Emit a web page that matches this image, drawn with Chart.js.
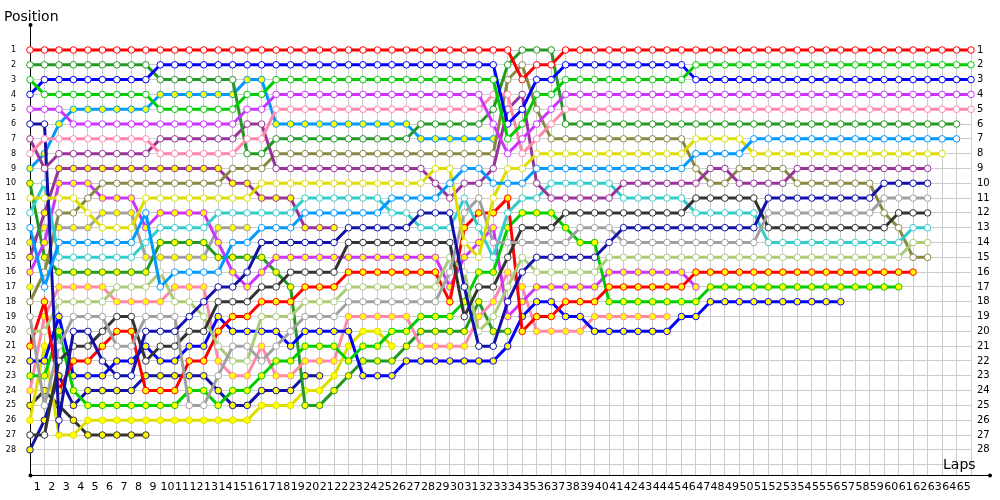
<!DOCTYPE html>
<html>
<head>
<meta charset="utf-8">
<script src="https://cdn.jsdelivr.net/npm/chart.js@4.4.1/dist/chart.umd.min.js"></script>
<style>
  html, body { margin: 0; padding: 0; background: #fff; }
</style>
</head>
<body>
<canvas id="lap_chart" width="1000" height="500"></canvas>
<script>
// x categories: lap 0 (grid) .. 65, labelled between gridlines
const lapTicks = ['1','2','3','4','5','6','7','8','9','10','11','12','13','14','15','16','17','18','19','20',
  '21','22','23','24','25','26','27','28','29','30','31','32','33','34','35','36','37','38','39','40',
  '41','42','43','44','45','46','47','48','49','50','51','52','53','54','55','56','57','58','59','60',
  '61','62','63','64','65',''];
const positionTicks = [1,2,3,4,5,6,7,8,9,10,11,12,13,14,15,16,17,18,19,20,21,22,23,24,25,26,27,28];
const n = null;

// positions per lap (index = lap 0..65), white markers
const redA = [1,1,1,1,1,1,1,1,1,1, 1,1,1,1,1,1,1,1,1,1, 1,1,1,1,1,1,1,1,1,1, 1,1,1,1,3,2,2,1,1,1,
  1,1,1,1,1,1,1,1,1,1, 1,1,1,1,1,1,1,1,1,1, 1,1,1,1,1,1];
const greenA = [3,4,4,4,4,4,4,4,4,5, 5,5,5,5,5,4,4,3,3,3, 3,3,3,3,3,3,3,3,3,3, 3,3,3,7,6,4,4,3,3,3,
  3,3,3,3,3,3,2,2,2,2, 2,2,2,2,2,2,2,2,2,2, 2,2,2,2,2,2];
const blueA = [4,3,3,3,3,3,3,3,3,2, 2,2,2,2,2,2,2,2,2,2, 2,2,2,2,2,2,2,2,2,2, 2,2,2,6,5,3,3,2,2,2,
  2,2,2,2,2,2,3,3,3,3, 3,3,3,3,3,3,3,3,3,3, 3,3,3,3,3,3];
const violetA = [5,5,5,6,6,6,6,6,6,6, 6,6,6,6,6,5,5,4,4,4, 4,4,4,4,4,4,4,4,4,4, 4,4,6,8,7,6,5,4,4,4,
  4,4,4,4,4,4,4,4,4,4, 4,4,4,4,4,4,4,4,4,4, 4,4,4,4,4,4];
const pinkA = [8,7,7,7,7,7,7,7,7,8, 8,8,8,8,8,7,7,5,5,5, 5,5,5,5,5,5,5,5,5,5, 5,5,4,4,8,7,6,5,5,5,
  5,5,5,5,5,5,5,5,5,5, 5,5,5,5,5,5,5,5,5,5, 5,5,5,5,5,5];
const dkgreenA = [2,2,2,2,2,2,2,2,2,3, 3,3,3,3,3,8,8,7,7,7, 7,7,7,7,7,7,7,6,6,6, 6,6,5,2,1,1,1,6,6,6,
  6,6,6,6,6,6,6,6,6,6, 6,6,6,6,6,6,6,6,6,6, 6,6,6,6,6,n];
const ltblueA = [13,17,14,14,14,14,14,14,12,17, 16,16,16,16,14,14,13,13,13,12, 12,12,12,12,12,11,11,11,11,10,
  9,9,10,10,10,9,9,9,9,9, 9,9,9,9,9,9,8,8,8,8, 7,7,7,7,7,7,7,7,7,7, 7,7,7,7,7,n];
const yellowA = [11,11,11,11,12,13,13,13,11,11, 11,11,11,11,11,11,10,10,10,10, 10,10,10,10,10,10,10,10,9,9,
  14,15,11,9,9,8,8,8,8,8, 8,8,8,8,8,8,7,7,7,7, 8,8,8,8,8,8,8,8,8,8, 8,8,8,8,n,n];
const plumA = [7,9,8,8,8,8,8,8,8,7, 7,7,7,7,7,6,6,9,9,9, 9,9,9,9,9,9,9,9,10,11,
  10,10,9,5,4,10,11,11,11,11, 11,10,10,10,10,10,10,9,9,10, 10,10,10,9,9,9,9,9,9,9, 9,9,9,n,n,n];
const navyA = [6,6,26,20,20,22,23,23,20,20, 20,19,18,17,17,16,14,14,14,14, 14,14,13,13,13,13,13,12,12,12,
  17,21,21,18,16,15,15,15,15,15, 14,13,13,13,13,13,13,13,13,13, 13,11,11,11,11,11,11,11,11,10, 10,10,10,n,n,n];
const grayA = [19,25,21,19,19,19,21,21,19,19, 19,25,25,23,21,21,22,21,20,19, 19,19,18,18,18,18,18,18,18,16,
  12,11,14,14,14,14,14,14,13,13, 13,14,14,14,14,14,14,14,14,14, 14,12,12,12,12,12,12,12,12,11, 11,11,11,n,n,n];
const blackA = [27,27,22,21,21,20,19,19,22,21, 21,20,20,18,18,18,17,17,16,16, 16,16,14,14,14,14,14,14,14,14,
  19,17,17,15,13,13,13,12,12,12, 12,12,12,12,12,12,11,11,11,11, 11,13,13,13,13,13,13,13,13,13, 12,12,12,n,n,n];
const cyanA = [12,10,15,15,15,15,15,15,14,13, 13,13,13,12,12,12,12,12,12,11, 11,11,11,11,11,12,12,13,13,13,
  11,13,15,12,11,11,10,10,10,10, 10,11,11,11,11,11,12,12,12,12, 12,14,14,14,14,14,14,14,14,14, 14,13,13,n,n,n];
const limeA = [20,20,18,18,18,18,17,17,17,16, 18,18,19,21,22,22,19,19,19,18, 18,18,17,17,17,17,17,17,17,15,
  16,20,19,17,15,16,16,16,16,16, 15,15,15,15,15,15,15,15,15,15, 15,15,15,15,15,15,15,15,15,15, 15,14,14,n,n,n];
const oliveA = [18,16,12,12,11,10,10,10,10,10, 10,10,10,10,9,9,9,8,8,8, 8,8,8,8,8,8,8,8,8,8,
  8,8,8,3,2,5,7,7,7,7, 7,7,7,7,7,7,9,10,10,9, 9,9,9,10,10,10,10,10,10,12, 13,15,15,n,n,n];

// positions per lap, yellow markers
const redB = [21,18,24,22,22,21,20,20,24,24, 24,22,22,20,19,19,18,18,18,17, 17,17,16,16,16,16,16,16,16,18,
  13,12,12,11,20,19,19,18,18,18, 17,17,17,17,17,17,16,16,16,16, 16,16,16,16,16,16,16,16,16,16, 16,16,n,n,n,n];
const greenB = [23,23,20,24,25,25,25,25,25,25, 25,24,24,25,24,24,23,22,22,21, 21,21,22,21,21,20,20,19,19,19,
  18,16,16,13,12,12,12,13,14,14, 18,18,18,18,18,18,18,17,17,17, 17,17,17,17,17,17,17,17,17,17, 17,n,n,n,n,n];
const blueB = [22,22,19,23,23,23,22,22,21,22, 22,21,21,19,20,20,20,20,21,20, 20,20,20,23,23,23,22,22,22,22,
  22,22,22,21,19,18,18,19,19,20, 20,20,20,20,20,19,19,18,18,18, 18,18,18,18,18,18,18,n,n,n, n,n,n,n,n,n];
const violetB = [16,14,10,10,10,11,11,11,13,12, 12,12,12,14,16,17,16,15,15,15, 15,15,15,15,15,15,15,15,15,17,
  15,14,13,19,18,17,17,17,17,17, 16,16,16,16,16,16,17,n,n,n, n,n,n,n,n,n,n,n,n,n, n,n,n,n,n,n];
const pinkB = [24,19,17,17,17,17,18,18,18,18, 17,17,17,22,23,23,21,23,23,22, 22,22,19,19,19,19,19,21,21,21,
  21,19,18,16,17,20,20,20,20,19, 19,19,19,19,19,n,n,n,n,n, n,n,n,n,n,n,n,n,n,n, n,n,n,n,n,n];
const dkgreenB = [10,15,16,16,16,16,16,16,16,14, 14,14,14,15,15,15,15,16,17,25, 25,24,23,22,22,22,21,20,20,20,
  20,18,20,20,n,n,n,n,n,n, n,n,n,n,n,n,n,n,n,n, n,n,n,n,n,n,n,n,n,n, n,n,n,n,n,n];
const ltblueB = [9,8,6,5,5,5,5,5,5,4, 4,4,4,4,4,3,3,6,6,6, 6,6,6,6,6,6,6,7,7,7,
  7,7,7,n,n,n,n,n,n,n, n,n,n,n,n,n,n,n,n,n, n,n,n,n,n,n,n,n,n,n, n,n,n,n,n,n];
const yellowB = [26,21,27,27,26,26,26,26,26,26, 26,26,26,26,26,26,25,25,25,24, 24,23,21,20,20,21,n,n,n,n,
  n,n,n,n,n,n,n,n,n,n, n,n,n,n,n,n,n,n,n,n, n,n,n,n,n,n,n,n,n,n, n,n,n,n,n,n];
const plumB = [15,12,9,9,9,9,9,9,9,9, 9,9,9,9,10,10,11,11,11,13, 13,13,n,n,n,n,n,n,n,n,
  n,n,n,n,n,n,n,n,n,n, n,n,n,n,n,n,n,n,n,n, n,n,n,n,n,n,n,n,n,n, n,n,n,n,n,n];
const navyB = [28,26,23,25,24,24,24,24,23,23, 23,23,23,24,25,25,24,24,24,23, 23,n,n,n,n,n,n,n,n,n,
  n,n,n,n,n,n,n,n,n,n, n,n,n,n,n,n,n,n,n,n, n,n,n,n,n,n,n,n,n,n, n,n,n,n,n,n];
const grayB = [14,13,13,13,13,12,12,12,15,15, 15,15,15,13,13,13,n,n,n,n, n,n,n,n,n,n,n,n,n,n,
  n,n,n,n,n,n,n,n,n,n, n,n,n,n,n,n,n,n,n,n, n,n,n,n,n,n,n,n,n,n, n,n,n,n,n,n];
const blackB = [25,24,25,26,27,27,27,27,27,n, n,n,n,n,n,n,n,n,n,n, n,n,n,n,n,n,n,n,n,n,
  n,n,n,n,n,n,n,n,n,n, n,n,n,n,n,n,n,n,n,n, n,n,n,n,n,n,n,n,n,n, n,n,n,n,n,n];
const limeB = [17,n,n,n,n,n,n,n,n,n, n,n,n,n,n,n,n,n,n,n, n,n,n,n,n,n,n,n,n,n,
  n,n,n,n,n,n,n,n,n,n, n,n,n,n,n,n,n,n,n,n, n,n,n,n,n,n,n,n,n,n, n,n,n,n,n,n];

const WHITE = '#ffffff';
const YEL = '#ffff00';
const drivers = [
  ['Red 1', '#ff0000', WHITE, redA],
  ['Green 1', '#00cc00', WHITE, greenA],
  ['Blue 1', '#0000ff', WHITE, blueA],
  ['Violet 1', '#cc33ff', WHITE, violetA],
  ['Pink 1', '#ff88aa', WHITE, pinkA],
  ['Dark green 1', '#229922', WHITE, dkgreenA],
  ['Light blue 1', '#0099ff', WHITE, ltblueA],
  ['Yellow 1', '#dddd00', WHITE, yellowA],
  ['Plum 1', '#993399', WHITE, plumA],
  ['Navy 1', '#1111aa', WHITE, navyA],
  ['Gray 1', '#a0a0a0', WHITE, grayA],
  ['Black 1', '#333333', WHITE, blackA],
  ['Cyan 1', '#33cccc', WHITE, cyanA],
  ['Lime 1', '#aacc77', WHITE, limeA],
  ['Olive 1', '#888844', WHITE, oliveA],
  ['Red 2', '#ff0000', YEL, redB],
  ['Green 2', '#00cc00', YEL, greenB],
  ['Blue 2', '#0000ff', YEL, blueB],
  ['Violet 2', '#cc33ff', YEL, violetB],
  ['Pink 2', '#ff88aa', YEL, pinkB],
  ['Dark green 2', '#229922', YEL, dkgreenB],
  ['Light blue 2', '#0099ff', YEL, ltblueB],
  ['Yellow 2', '#dddd00', YEL, yellowB],
  ['Plum 2', '#993399', YEL, plumB],
  ['Navy 2', '#1111aa', YEL, navyB],
  ['Gray 2', '#a0a0a0', YEL, grayB],
  ['Black 2', '#333333', YEL, blackB],
  ['Lime 2', '#aacc77', YEL, limeB]
];

// extra axis lines, end dots and axis titles
const axisDecor = {
  id: 'axisDecor',
  beforeDatasetsDraw(chart) {
    const { ctx, chartArea: a } = chart;
    ctx.save();
    ctx.strokeStyle = '#000';
    ctx.lineWidth = 1;
    ctx.beginPath();
    ctx.moveTo(a.left + 0.5, 25);
    ctx.lineTo(a.left + 0.5, a.bottom + 0.5);
    ctx.lineTo(990, a.bottom + 0.5);
    ctx.stroke();
    ctx.fillStyle = '#000';
    [[a.left + 0.5, 25], [a.left + 0.5, a.bottom + 0.5], [990, a.bottom + 0.5]].forEach(([x, y]) => {
      ctx.beginPath();
      ctx.arc(x, y, 2, 0, Math.PI * 2);
      ctx.fill();
    });
    ctx.restore();
  },
  afterDraw(chart) {
    const ctx = chart.ctx;
    ctx.save();
    ctx.fillStyle = '#000';
    ctx.font = '14px "DejaVu Sans"';
    ctx.textAlign = 'left';
    ctx.textBaseline = 'alphabetic';
    ctx.fillText('Position', 4, 21);
    ctx.fillText('Laps', 943, 469);
    ctx.restore();
  }
};

function setRows(scale) {
  scale.ticks = positionTicks.concat([29]).map(v => ({ value: v }));
}

const ctx = document.getElementById('lap_chart').getContext('2d');
new Chart(ctx, {
  type: 'line',
  data: {
    labels: lapTicks,
    datasets: drivers.map(d => ({
      label: d[0],
      data: d[3],
      borderColor: d[1],
      backgroundColor: d[1],
      borderWidth: 3,
      pointRadius: 3.3,
      pointBorderWidth: 1,
      pointBorderColor: d[1],
      pointBackgroundColor: d[2],
      tension: 0,
      spanGaps: false,
      clip: false
    }))
  },
  plugins: [axisDecor],
  options: {
    responsive: false,
    devicePixelRatio: 1,
    animation: false,
    layout: { padding: { top: 50, left: 0, right: 0, bottom: 0 } },
    plugins: {
      legend: { display: false },
      tooltip: { enabled: false }
    },
    scales: {
      x: {
        type: 'category',
        offset: false,
        border: { display: false },
        grid: { color: '#cccccc', drawTicks: false },
        ticks: {
          autoSkip: false,
          maxRotation: 0,
          minRotation: 0,
          labelOffset: 7.2,
          padding: 6,
          color: '#000',
          font: { family: 'DejaVu Sans', size: 11 }
        },
        afterFit(s) { s.height = 25; }
      },
      y: {
        type: 'linear',
        position: 'left',
        reverse: true,
        min: 1,
        max: 29.7,
        border: { display: false },
        grid: { color: '#cccccc', drawTicks: false },
        afterBuildTicks: setRows,
        ticks: {
          padding: 14,
          color: '#000',
          font: { family: 'DejaVu Sans', size: 8 },
          callback: v => (v <= 28 ? v : '')
        },
        afterFit(s) { s.width = 30; }
      },
      y2: {
        type: 'linear',
        position: 'right',
        reverse: true,
        min: 1,
        max: 29.7,
        border: { display: false },
        grid: { display: false, drawTicks: false },
        afterBuildTicks: setRows,
        ticks: {
          padding: 6,
          color: '#000',
          font: { family: 'DejaVu Sans', size: 10 },
          callback: v => (v <= 28 ? v : '')
        },
        afterFit(s) { s.width = 29; }
      }
    }
  }
});
</script>
</body>
</html>
